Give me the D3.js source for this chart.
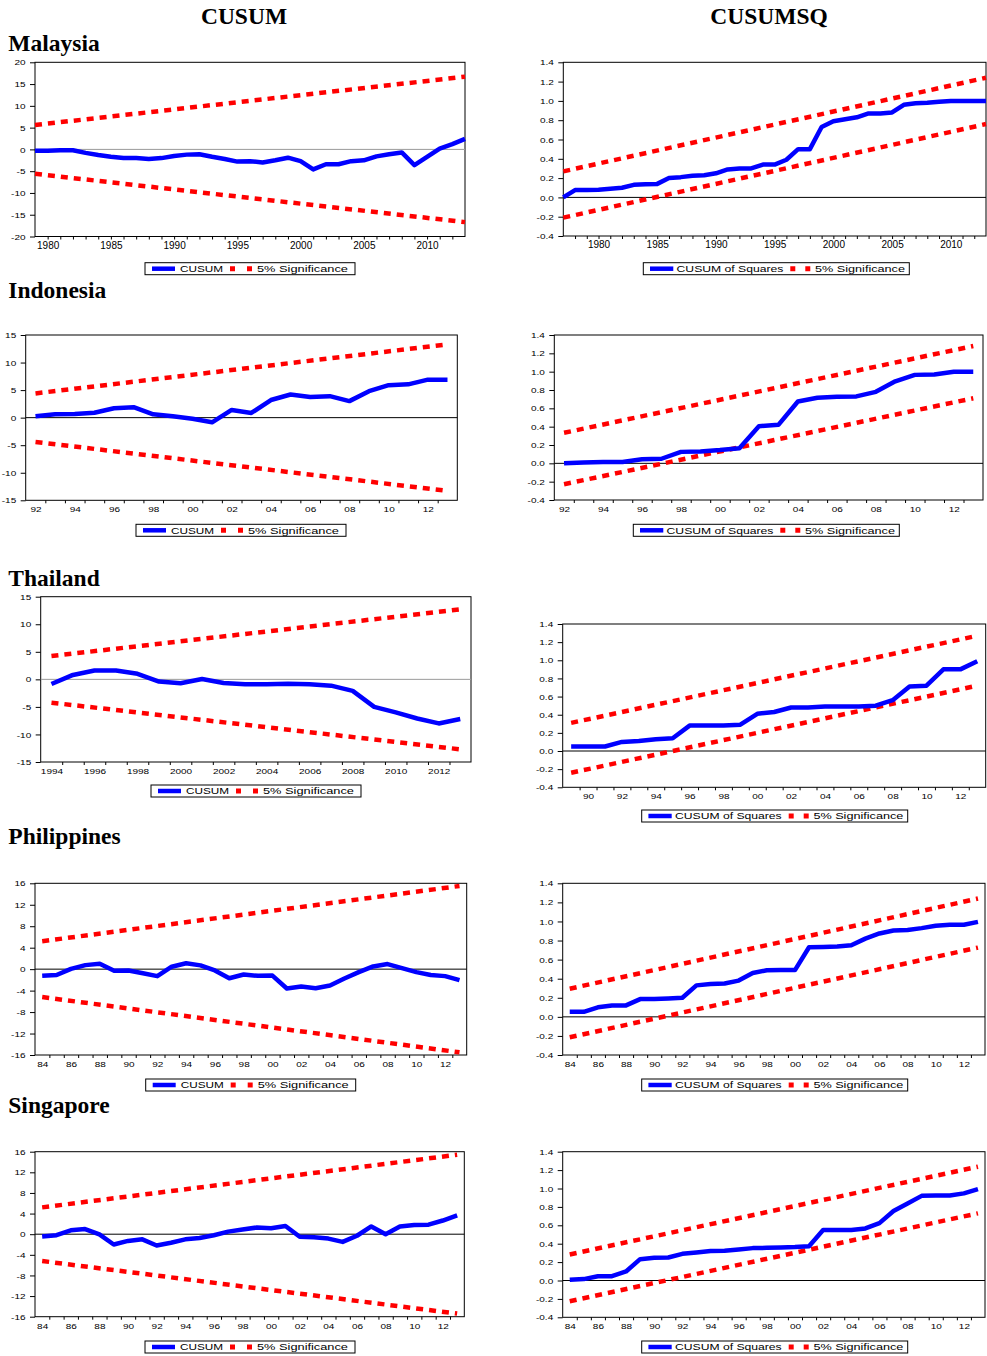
<!DOCTYPE html>
<html>
<head>
<meta charset="utf-8">
<script src="https://cdn.jsdelivr.net/npm/d3@7"></script>
<style>
body { margin: 0; background: #fff; }
svg { display: block; }
.hdr { font-family: "Liberation Serif", "Times New Roman", serif; font-weight: bold; font-size: 23.5px; }
.ax text, .leg text { font-family: "Liberation Sans", Arial, sans-serif; fill: #000; }
</style>
</head>
<body>
<svg id="chart" width="987" height="1356"></svg>
<script>
// values (CUSUM / CUSUM of squares)

// Malaysia
var myCusumStart = 1979;
var myCusum = [-0.3, -0.3, -0.2, -0.2, -0.8, -1.3, -1.7, -2.0, -2.0, -2.2, -2.0, -1.5, -1.2, -1.1, -1.7, -2.2, -2.8, -2.7, -3.0, -2.5,
  -1.9, -2.7, -4.6, -3.4, -3.4, -2.7, -2.5, -1.6, -1.1, -0.7, -3.6, -1.7, 0.2, 1.2, 2.4];
var myCusumBand = [5.6, 16.7];            // upper 5% line, first and last year (lower mirrors it)
var myCusumsqStart = 1977;
var myCusumsq = [0.0, 0.076, 0.076, 0.08, 0.09, 0.10, 0.13, 0.135, 0.14, 0.20, 0.21, 0.225, 0.23, 0.25, 0.29, 0.30, 0.30, 0.34, 0.34,
  0.39, 0.50, 0.50, 0.73, 0.79, 0.81, 0.83, 0.87, 0.87, 0.88, 0.96, 0.975, 0.98, 0.99, 1.0, 1.0, 1.0, 1.0];
var myCusumsqUpper = [0.27, 1.24];
var myCusumsqLower = [-0.21, 0.76];

// Indonesia
var idStart = 1992;
var idCusum = [0.25, 0.6, 0.65, 0.9, 1.7, 1.9, 0.6, 0.25, -0.2, -0.85, 1.4, 0.85, 3.2, 4.2, 3.75, 3.9, 3.0, 4.8, 5.9, 6.05, 6.9, 6.9];
var idCusumBand = [4.4, 13.3];
var idCusumsq = [0.0, 0.01, 0.015, 0.015, 0.045, 0.05, 0.125, 0.13, 0.145, 0.165, 0.405, 0.42, 0.675, 0.715, 0.727, 0.73, 0.78,
  0.895, 0.965, 0.97, 1.0, 1.0];
var idCusumsqUpper = [0.333, 1.28];
var idCusumsqLower = [-0.228, 0.71];

// Thailand
var thCusumStart = 1994;
var thCusum = [-0.85, 0.8, 1.6, 1.6, 1.0, -0.4, -0.7, 0.05, -0.65, -0.9, -0.9, -0.8, -0.9, -1.15, -2.1, -5.0, -6.0, -7.1, -8.0, -7.2];
var thCusumBand = [4.23, 12.7];
var thCusumsqStart = 1989;
var thCusumsq = [0.05, 0.05, 0.05, 0.10, 0.11, 0.13, 0.14, 0.28, 0.28, 0.28, 0.29, 0.41, 0.43, 0.48, 0.48, 0.49, 0.49, 0.49, 0.50,
  0.56, 0.71, 0.72, 0.90, 0.90, 0.99];
var thCusumsqUpper = [0.31, 1.27];
var thCusumsqLower = [-0.24, 0.72];

// Philippines
var phStart = 1984;
var phCusum = [-1.25, -1.1, 0.05, 0.75, 1.0, -0.3, -0.25, -0.75, -1.3, 0.45, 1.1, 0.7, -0.25, -1.7, -1.0, -1.25, -1.2, -3.6, -3.25,
  -3.55, -3.05, -1.75, -0.55, 0.5, 0.95, 0.2, -0.55, -1.1, -1.3, -2.05];
var phCusumBand = [5.2, 15.5];
var phCusumsq = [0.053, 0.053, 0.10, 0.12, 0.12, 0.186, 0.186, 0.193, 0.20, 0.33, 0.344, 0.35, 0.38, 0.46, 0.488, 0.49, 0.49, 0.73,
  0.733, 0.737, 0.75, 0.82, 0.874, 0.905, 0.91, 0.93, 0.955, 0.965, 0.965, 0.996];
var phCusumsqUpper = [0.295, 1.24];
var phCusumsqLower = [-0.214, 0.726];

// Singapore
var sgStart = 1984;
var sgCusum = [-0.45, -0.2, 0.75, 1.0, -0.05, -2.0, -1.3, -1.0, -2.2, -1.65, -1.0, -0.75, -0.2, 0.5, 0.9, 1.3, 1.15, 1.6, -0.5, -0.6,
  -0.85, -1.5, -0.3, 1.5, 0.0, 1.5, 1.8, 1.85, 2.65, 3.65];
var sgCusumBand = [5.2, 15.4];
var sgCusumsq = [0.007, 0.015, 0.047, 0.047, 0.098, 0.232, 0.247, 0.25, 0.29, 0.305, 0.32, 0.323, 0.337, 0.352, 0.355, 0.36, 0.363,
  0.373, 0.548, 0.548, 0.548, 0.566, 0.624, 0.755, 0.838, 0.92, 0.925, 0.925, 0.947, 0.994];
var sgCusumsqUpper = [0.283, 1.237];
var sgCusumsqLower = [-0.225, 0.73];

// axis ticks and labels
var ticks20 = [-20, -15, -10, -5, 0, 5, 10, 15, 20];
var ticks15 = [-15, -10, -5, 0, 5, 10, 15];
var ticks16 = [-16, -12, -8, -4, 0, 4, 8, 12, 16];
var ticksSq = [-0.4, -0.2, 0.0, 0.2, 0.4, 0.6, 0.8, 1.0, 1.2, 1.4];
var myYearLabels = [1980, 1985, 1990, 1995, 2000, 2005, 2010];
var idYearLabels = [1992, 1994, 1996, 1998, 2000, 2002, 2004, 2006, 2008, 2010, 2012];
var thYearLabels = [1994, 1996, 1998, 2000, 2002, 2004, 2006, 2008, 2010, 2012];
var thSqYearLabels = [1990, 1992, 1994, 1996, 1998, 2000, 2002, 2004, 2006, 2008, 2010, 2012];
var phYearLabels = [1984, 1986, 1988, 1990, 1992, 1994, 1996, 1998, 2000, 2002, 2004, 2006, 2008, 2010, 2012];

var headers = ["CUSUM", "CUSUMSQ"];
var countries = ["Malaysia", "Indonesia", "Thailand", "Philippines", "Singapore"];

var svg = d3.select("#chart");

var full = function(d) { return String(d); };
var twoDigit = function(d) { return String(d).slice(2); };
var intFmt = function(d) { return String(d); };
var decFmt = function(d) { return d.toFixed(1); };

function mirror(b) { return [-b[0], -b[1]]; }

// plot frames [left, top, right, bottom], legend left/top
var panels = [
  {start: myCusumStart, vals: myCusum, up: myCusumBand, lo: mirror(myCusumBand), box: [35, 62.3, 465, 236.5],
   xdom: [1979, 2013], yticks: ticks20, yfmt: intFmt, xlab: myYearLabels, xfmt: full, xsy: 1.0,
   zero: "#9a9a9a", sq: false, leg: [145, 262.7]},
  {start: myCusumsqStart, vals: myCusumsq, up: myCusumsqUpper, lo: myCusumsqLower, box: [563.3, 62.3, 986, 236],
   xdom: [1977, 2013], yticks: ticksSq, yfmt: decFmt, xlab: myYearLabels, xfmt: full, xsy: 1.0,
   zero: "#000", sq: true, leg: [643.3, 262.7]},
  {start: idStart, vals: idCusum, up: idCusumBand, lo: mirror(idCusumBand), box: [25.7, 335, 457.3, 500.3],
   xdom: [1991.5, 2013.5], yticks: ticks15, yfmt: intFmt, xlab: idYearLabels, xfmt: twoDigit, xsy: 0.8,
   zero: "#000", sq: false, leg: [136, 524.3]},
  {start: idStart, vals: idCusumsq, up: idCusumsqUpper, lo: idCusumsqLower, box: [554.3, 335, 983, 500],
   xdom: [1991.5, 2013.5], yticks: ticksSq, yfmt: decFmt, xlab: idYearLabels, xfmt: twoDigit, xsy: 0.8,
   zero: "#000", sq: true, leg: [633.3, 524.3]},
  {start: thCusumStart, vals: thCusum, up: thCusumBand, lo: mirror(thCusumBand), box: [40.7, 596.7, 471, 762],
   xdom: [1993.5, 2013.5], yticks: ticks15, yfmt: intFmt, xlab: thYearLabels, xfmt: full, xsy: 0.8,
   zero: "#9a9a9a", sq: false, leg: [151, 785]},
  {start: thCusumsqStart, vals: thCusumsq, up: thCusumsqUpper, lo: thCusumsqLower, box: [562.7, 624, 985.7, 787.3],
   xdom: [1988.5, 2013.5], yticks: ticksSq, yfmt: decFmt, xlab: thSqYearLabels, xfmt: twoDigit, xsy: 0.8,
   zero: "#000", sq: true, leg: [641.7, 810]},
  {start: phStart, vals: phCusum, up: phCusumBand, lo: mirror(phCusumBand), box: [35, 883.3, 466.7, 1055],
   xdom: [1983.5, 2013.5], yticks: ticks16, yfmt: intFmt, xlab: phYearLabels, xfmt: twoDigit, xsy: 0.8,
   zero: "#000", sq: false, leg: [145.7, 1079]},
  {start: phStart, vals: phCusumsq, up: phCusumsqUpper, lo: phCusumsqLower, box: [562.7, 883.3, 985, 1055],
   xdom: [1983.5, 2013.5], yticks: ticksSq, yfmt: decFmt, xlab: phYearLabels, xfmt: twoDigit, xsy: 0.8,
   zero: "#000", sq: true, leg: [641.7, 1079]},
  {start: sgStart, vals: sgCusum, up: sgCusumBand, lo: mirror(sgCusumBand), box: [35, 1151.7, 464.3, 1316.7],
   xdom: [1983.5, 2013.5], yticks: ticks16, yfmt: intFmt, xlab: phYearLabels, xfmt: twoDigit, xsy: 0.8,
   zero: "#000", sq: false, leg: [145, 1341]},
  {start: sgStart, vals: sgCusumsq, up: sgCusumsqUpper, lo: sgCusumsqLower, box: [562.7, 1151.7, 985, 1317.3],
   xdom: [1983.5, 2013.5], yticks: ticksSq, yfmt: decFmt, xlab: phYearLabels, xfmt: twoDigit, xsy: 0.8,
   zero: "#000", sq: true, leg: [641.7, 1341]}
];

// titles
svg.append("text").attr("class", "hdr").attr("x", 244).attr("y", 24).attr("text-anchor", "middle").text(headers[0]);
svg.append("text").attr("class", "hdr").attr("x", 769).attr("y", 24).attr("text-anchor", "middle").text(headers[1]);
var countryY = [50.7, 298, 586, 844, 1113];
countries.forEach(function(c, i) {
  svg.append("text").attr("class", "hdr").attr("x", 8.3).attr("y", countryY[i]).text(c);
});

panels.forEach(function(p) {
  var x = d3.scaleLinear().domain(p.xdom).range([p.box[0], p.box[2]]);
  var y = d3.scaleLinear().domain([p.yticks[0], p.yticks[p.yticks.length - 1]]).range([p.box[3], p.box[1]]);
  var g = svg.append("g");

  var data = p.vals.map(function(v, i) { return {year: p.start + i, v: v}; });
  var first = data[0].year, last = data[data.length - 1].year;

  // y axis
  var ya = g.append("g").attr("class", "ax")
    .attr("transform", "translate(" + p.box[0] + ",0)")
    .call(d3.axisLeft(y).tickValues(p.yticks).tickSize(5).tickFormat(p.yfmt));
  ya.select(".domain").remove();
  ya.selectAll("text").attr("x", null).attr("dy", null)
    .attr("font-size", 10)
    .attr("transform", "translate(-9.5,2.6) scale(1,0.75)");

  // x axis: marks between observations, labels underneath
  var xm = g.append("g").attr("class", "ax")
    .attr("transform", "translate(0," + p.box[3] + ")")
    .call(d3.axisBottom(x).tickValues(d3.range(p.xdom[0] + 1, p.xdom[1], 1)).tickSize(3).tickFormat(""));
  xm.select(".domain").remove();
  var xl = g.append("g").attr("class", "ax")
    .attr("transform", "translate(0," + p.box[3] + ")")
    .call(d3.axisBottom(x).tickValues(p.xlab).tickSize(0).tickFormat(p.xfmt));
  xl.select(".domain").remove();
  xl.selectAll("text").attr("y", null).attr("dy", null)
    .attr("font-size", 10)
    .attr("transform", "translate(0,12) scale(1," + p.xsy + ")");

  // frame and zero line
  g.append("rect")
    .attr("x", p.box[0]).attr("y", p.box[1])
    .attr("width", p.box[2] - p.box[0]).attr("height", p.box[3] - p.box[1])
    .attr("fill", "none").attr("stroke", "#000").attr("stroke-width", 1);
  g.append("line")
    .attr("x1", p.box[0]).attr("x2", p.box[2])
    .attr("y1", y(0)).attr("y2", y(0))
    .attr("stroke", p.zero).attr("stroke-width", 1);

  // 5% significance lines
  [p.up, p.lo].forEach(function(b) {
    g.append("line")
      .attr("x1", x(first)).attr("y1", y(b[0]))
      .attr("x2", x(last)).attr("y2", y(b[1]))
      .attr("stroke", "#ff0000").attr("stroke-width", 4.5)
      .attr("stroke-dasharray", "7,6");
  });

  // cusum line
  var line = d3.line().x(function(d) { return x(d.year); }).y(function(d) { return y(d.v); });
  g.append("path").datum(data)
    .attr("d", line)
    .attr("fill", "none").attr("stroke", "#0000ff").attr("stroke-width", 4.5)
    .attr("stroke-linejoin", "round");

  // legend
  var lx = p.leg[0], ly = p.leg[1];
  var L = p.sq
    ? {w: 266, l0: 6.7, l1: 30, t1: 33.3, t1w: 106.7, s0: 147, s1: 167, sd: "5,10", t2: 171.7, t2w: 90, name: "CUSUM of Squares"}
    : {w: 210, l0: 7, l1: 30, t1: 35, t1w: 43, s0: 85, s1: 107, sd: "5,12", t2: 112, t2w: 91, name: "CUSUM"};
  var lg = g.append("g").attr("class", "leg").attr("transform", "translate(" + lx + "," + ly + ")");
  lg.append("rect").attr("width", L.w).attr("height", 12)
    .attr("fill", "#fff").attr("stroke", "#000").attr("stroke-width", 1);
  lg.append("line").attr("x1", L.l0).attr("x2", L.l1).attr("y1", 6).attr("y2", 6)
    .attr("stroke", "#0000ff").attr("stroke-width", 4.5);
  lg.append("text").attr("x", L.t1).attr("y", 9.3).attr("font-size", 9.5)
    .attr("textLength", L.t1w).attr("lengthAdjust", "spacingAndGlyphs").text(L.name);
  lg.append("line").attr("x1", L.s0).attr("x2", L.s1).attr("y1", 6).attr("y2", 6)
    .attr("stroke", "#ff0000").attr("stroke-width", 5).attr("stroke-dasharray", L.sd);
  lg.append("text").attr("x", L.t2).attr("y", 9.3).attr("font-size", 9.5)
    .attr("textLength", L.t2w).attr("lengthAdjust", "spacingAndGlyphs").text("5% Significance");
});
</script>
</body>
</html>
